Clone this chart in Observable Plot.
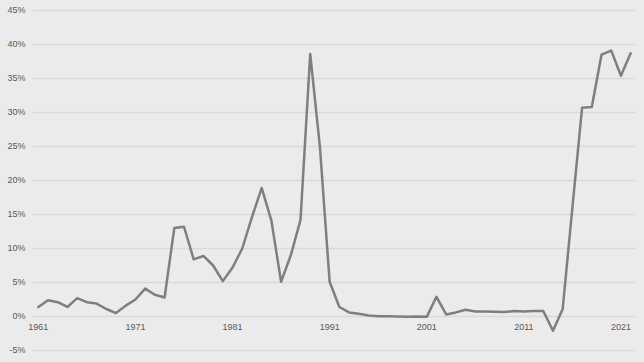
<!DOCTYPE html>
<html>
<head>
<meta charset="utf-8">
<script src="https://cdn.jsdelivr.net/npm/d3@7"></script>
<script src="https://cdn.jsdelivr.net/npm/@observablehq/plot@0.6"></script>
<style>
  html, body { margin: 0; padding: 0; background: #ebebeb; }
  #chart svg { display: block; background: #ebebeb; }
</style>
</head>
<body>
<div id="chart"></div>
<script>
const years = d3.range(1961, 2023);
const values = [
  1.4, 2.4, 2.1, 1.4, 2.7, 2.1, 1.9, 1.1, 0.5, 1.6,
  2.5, 4.1, 3.2, 2.8, 13.0, 13.2, 8.4, 8.9, 7.5, 5.2,
  7.2, 10.0, 14.6, 18.9, 14.1, 5.1, 9.0, 14.2, 38.6, 24.9,
  5.1, 1.4, 0.6, 0.4, 0.15, 0.05, 0.05, 0.0, -0.05, 0.0,
  -0.05, 2.9, 0.3, 0.6, 1.0, 0.75, 0.75, 0.7, 0.65, 0.8,
  0.75, 0.8, 0.8, -2.1, 1.1, 16.0, 30.7, 30.8, 38.5, 39.1,
  35.4, 38.7
];
const yTicks = d3.range(-5, 50, 5);
const xTickLabels = [1961, 1971, 1981, 1991, 2001, 2011, 2021];

const data = years.map((year, i) => ({year, value: values[i]}));

const chart = Plot.plot({
  width: 644,
  height: 362,
  marginLeft: 33,
  marginRight: 9,
  marginTop: 10,
  marginBottom: 12,
  style: {background: "#ebebeb", fontFamily: "Liberation Sans, Arial, sans-serif", fontSize: "9px", color: "#595959"},
  x: {domain: [1960.5, 2022.5], axis: null},
  y: {domain: [-5, 45], axis: null},
  marks: [
    Plot.ruleY(yTicks, {stroke: "#d9d9d9", strokeWidth: 1.5}),
    Plot.axisY({ticks: yTicks, tickSize: 0, tickPadding: 8, tickFormat: d => d + "%", label: null, fill: "#595959", fontSize: 9}),
    Plot.text(xTickLabels, {x: d => d, y: 0, dy: 11, text: d => String(d), fill: "#595959", fontSize: 9}),
    Plot.line(data, {x: "year", y: "value", stroke: "#7f7f7f", strokeWidth: 2.5, strokeLinejoin: "round"})
  ]
});
document.getElementById("chart").appendChild(chart);
</script>
</body>
</html>
